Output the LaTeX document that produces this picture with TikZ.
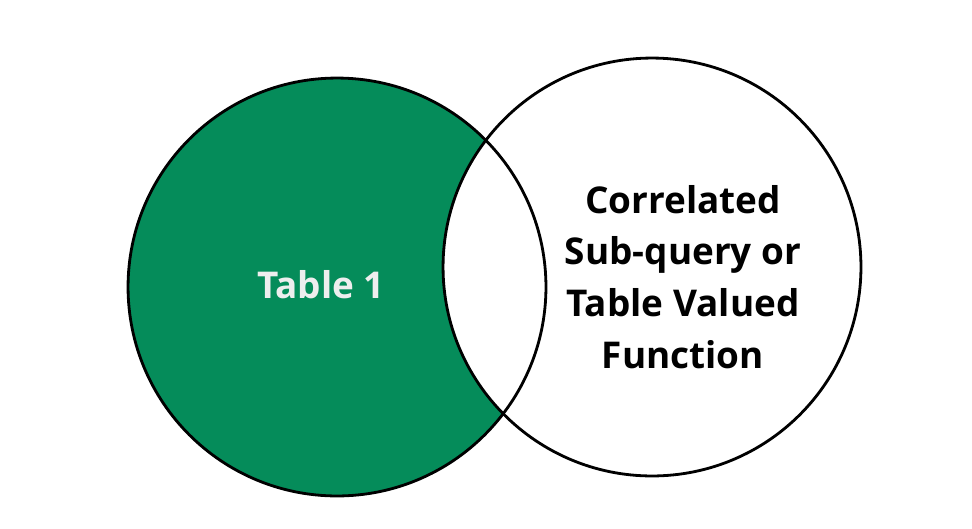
\documentclass[tikz,border=0pt]{standalone}
\usepackage{fontspec}
\setmainfont{Open Sans}
\definecolor{setgreen}{HTML}{058C5A}
\definecolor{lbl}{HTML}{EEEEEE}

\begin{document}
\begin{tikzpicture}[x=0.02cm,y=-0.02cm,
    setring/.style={circle,minimum size=8.36cm,inner sep=0pt,line width=1.6pt},
    settext/.style={font=\bfseries\fontsize{21}{29.5}\selectfont,align=center}]
  % canvas, same size as the reference
  \useasboundingbox (0,0) rectangle (972,528);
  % left set filled, right set painted over it
  \node[setring,fill=setgreen] (tbl) at (337,287) {};
  \node[setring,fill=white,draw] (sub) at (652,267) {};
  \node[setring,draw] (tblrim) at (tbl.center) {};
  % labels
  \node[settext,text=lbl] (tbllabel) at (321,285) {Table 1};
  \node[settext] (sublabel) at (683,277) {Correlated\\Sub-query or\\Table Valued\\Function};
\end{tikzpicture}
\end{document}
